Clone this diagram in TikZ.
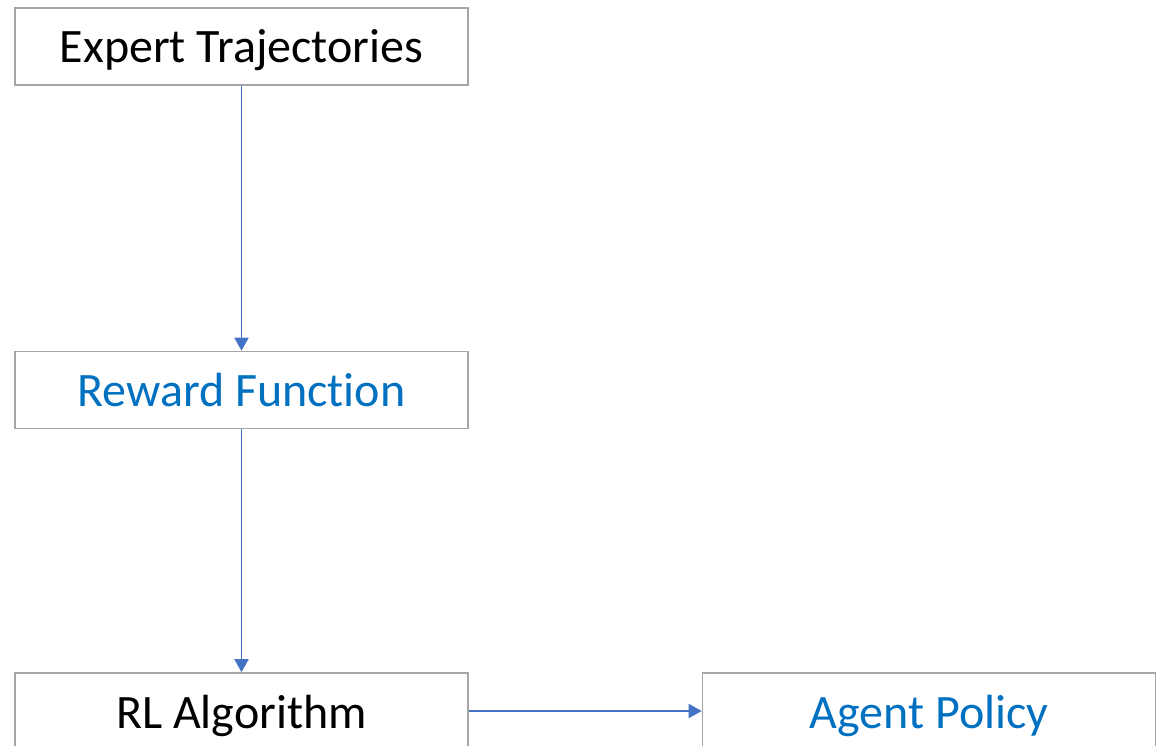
\documentclass[tikz,border=0pt]{standalone}
\usepackage{fontspec}
\setmainfont{Carlito}[Ligatures=NoCommon]
\usetikzlibrary{arrows.meta}
\definecolor{boxgray}{HTML}{A6A6A6}
\definecolor{txtblue}{HTML}{0070C0}
\definecolor{arrblue}{HTML}{4472C4}
\tikzset{
  flowbox/.style={draw=boxgray, line width=1.6pt, fill=white, minimum width=453pt, minimum height=77pt, inner sep=0pt, text height=40pt, text depth=7pt, font=\fontsize{48}{54}\selectfont},
  flowarrow/.style={draw=arrblue, line width=1.8pt, -{Triangle[length=13pt,width=14pt]}}
}
\begin{document}
\begin{tikzpicture}[x=1pt,y=-1pt]
\useasboundingbox (0,0) rectangle (1164,746);
\clip (0,0) rectangle (1164,746);
\node[flowbox] (exp) at (241.5,46.5) {Expert Trajectories};
\node[flowbox, text=txtblue] (rew) at (241.5,390) {Reward Function};
\node[flowbox] (rl) at (241.5,711.5) {RL Algorithm};
\node[flowbox, text=txtblue] (agent) at (929,711.5) {Agent Policy};
\draw[flowarrow] (exp.south) -- (rew.north);
\draw[flowarrow] (rew.south) -- (rl.north);
\draw[flowarrow] (rl.east |- 0,711) -- (agent.west |- 0,711);
\end{tikzpicture}
\end{document}
